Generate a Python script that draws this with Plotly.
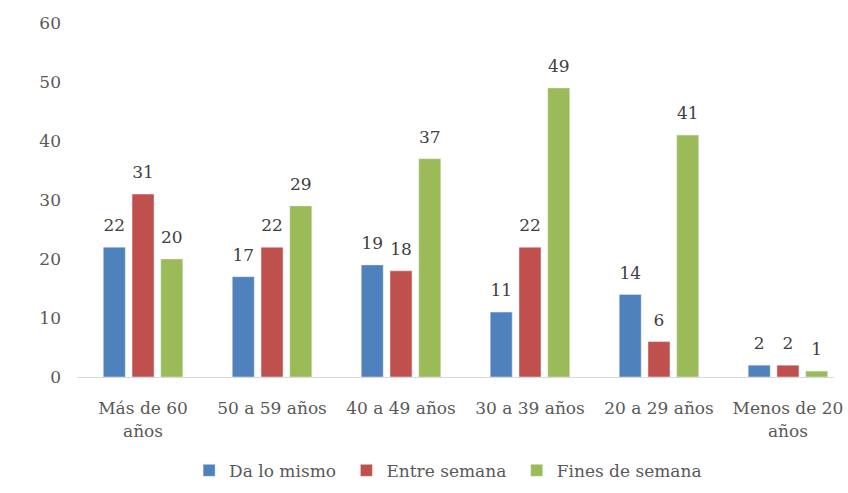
import plotly.graph_objects as go

# Age groups and share (%) of each preference
categories = ["Más de 60<br>años", "50 a 59 años", "40 a 49 años",
              "30 a 39 años", "20 a 29 años", "Menos de 20<br>años"]
da_lo_mismo = [22, 17, 19, 11, 14, 2]
entre_semana = [31, 22, 18, 22, 6, 2]
fines_de_semana = [20, 29, 37, 49, 41, 1]
y_ticks = [0, 10, 20, 30, 40, 50, 60]

series = [
    ("Da lo mismo", da_lo_mismo, "#4F81BD"),
    ("Entre semana", entre_semana, "#C0504D"),
    ("Fines de semana", fines_de_semana, "#9BBB59"),
]

FONT = "DejaVu Serif"
NBSP = "\u00a0"
fig = go.Figure()

for i, (name, vals, color) in enumerate(series):
    fig.add_trace(go.Bar(
        x=categories, y=vals, name=name + NBSP, marker_color=color,
        offsetgroup=str(i), alignmentgroup="a", hoverinfo="skip",
    ))

# value labels sit above each bar, offset by an invisible marker
for i, (name, vals, color) in enumerate(series):
    fig.add_trace(go.Scatter(
        x=categories, y=vals, mode="markers+text", text=[str(v) for v in vals],
        textposition="top center",
        textfont=dict(family=FONT, size=17, color="#404040"),
        marker=dict(size=17, opacity=0), offsetgroup=str(i), alignmentgroup="a",
        showlegend=False, hoverinfo="skip", cliponaxis=False,
    ))

fig.update_layout(
    width=848, height=493,
    margin=dict(l=77, r=14, t=23, b=116, autoexpand=False),
    paper_bgcolor="white", plot_bgcolor="white",
    barmode="group", scattermode="group",
    bargap=0.331, bargroupgap=0.235,
    font=dict(family=FONT, size=17, color="#595959"),
    showlegend=True,
    legend=dict(orientation="h", xref="container", yref="container",
                x=0.223, xanchor="left", y=0.045, yanchor="middle",
                font=dict(family=FONT, size=17, color="#595959"),
                traceorder="normal"),
)

fig.update_xaxes(
    type="category", range=[-0.512, 5.357], automargin=False,
    showline=True, linecolor="#d9d9d9", linewidth=1,
    showgrid=False, ticks="", ticklabelstandoff=16,
    tickfont=dict(family=FONT, size=17, color="#595959"),
)
fig.update_yaxes(
    range=[0, 60], tickvals=y_ticks, showgrid=False, zeroline=False,
    automargin=False, showline=False, ticks="", ticklabelstandoff=15,
    tickfont=dict(family=FONT, size=17, color="#595959"),
)

fig.write_html("out.html")
